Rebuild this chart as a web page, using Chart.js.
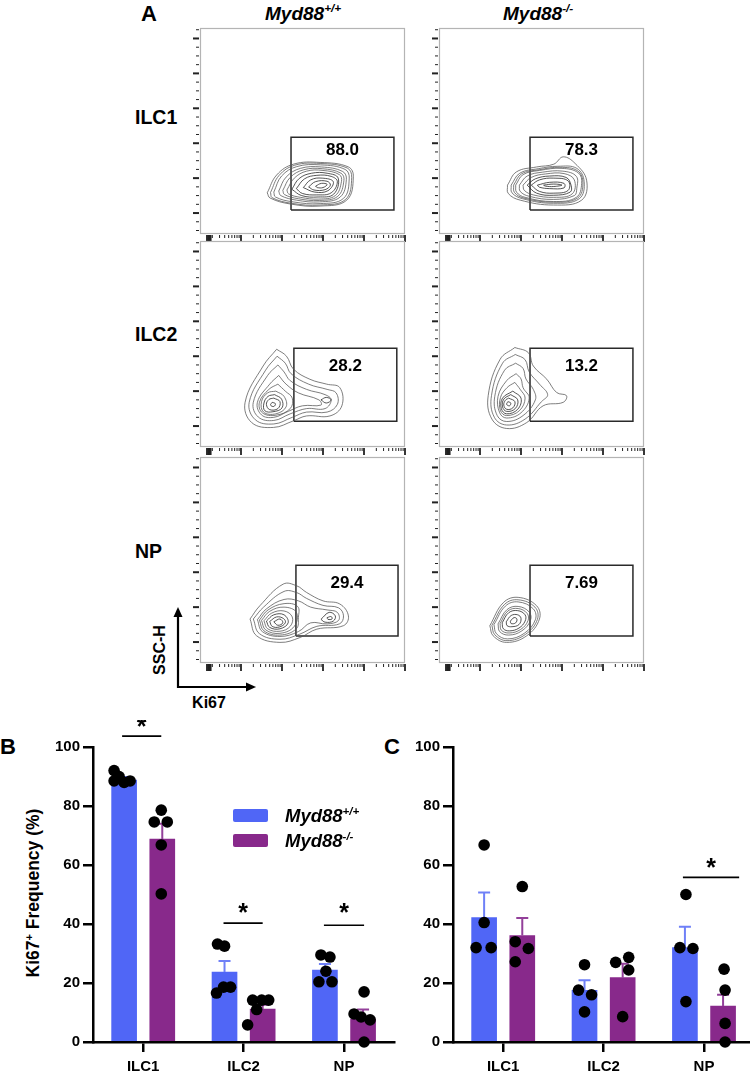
<!DOCTYPE html>
<html>
<head>
<meta charset="utf-8">
<script src="https://cdn.jsdelivr.net/npm/chart.js@4.4.1/dist/chart.umd.min.js"></script>
<style>
  html, body { margin: 0; padding: 0; background: #fff; }
  body { width: 750px; height: 1074px; position: relative; overflow: hidden;
         font-family: 'Liberation Sans', Arial, sans-serif; color: #000; }
  canvas { position: absolute; }
  .t { position: absolute; font-weight: bold; white-space: nowrap; line-height: 1; }
  .c { transform: translate(-50%, -50%); }
  .l { transform: translate(0, -50%); }
  .it { font-style: italic; }
  sup { font-size: 0.62em; vertical-align: 0.6em; line-height: 0; }
  .key { position: absolute; width: 35px; height: 13px; border-radius: 2px; }
</style>
</head>
<body>

<!-- panel A labels -->
<div class="t c" style="left:149px; top:14px; font-size:22px;">A</div>
<div class="t l it" style="left:265px; top:13px; font-size:19px;">Myd88<sup>+/+</sup></div>
<div class="t l it" style="left:503px; top:13px; font-size:19px;">Myd88<sup>-/-</sup></div>
<div class="t l" style="left:135px; top:118px; font-size:19.5px;">ILC1</div>
<div class="t l" style="left:135px; top:335px; font-size:19.5px;">ILC2</div>
<div class="t l" style="left:135px; top:552px; font-size:19.5px;">NP</div>
<div class="t c" style="left:160px; top:650px; font-size:16px; transform:translate(-50%,-50%) rotate(-90deg);">SSC-H</div>
<div class="t c" style="left:209px; top:703px; font-size:16px;">Ki67</div>
<svg style="position:absolute; left:0; top:0;" width="300" height="720">
  <line x1="178" y1="688" x2="178" y2="616" stroke="#000" stroke-width="2.2"/>
  <polygon points="178,607 173.5,617 182.5,617" fill="#000"/>
  <line x1="177" y1="687" x2="247" y2="687" stroke="#000" stroke-width="2.2"/>
  <polygon points="256,687 246,682.5 246,691.5" fill="#000"/>
</svg>

<!-- panel B / C labels -->
<div class="t l" style="left:0px; top:747px; font-size:22px;">B</div>
<div class="t l" style="left:384px; top:747px; font-size:22px;">C</div>
<div class="t c" style="left:34px; top:893px; font-size:17.5px; transform:translate(-50%,-50%) rotate(-90deg);">Ki67<sup>+</sup> Frequency (%)</div>

<canvas id="chartB" width="400" height="354" style="left:0; top:720px;"></canvas>
<canvas id="chartC" width="380" height="354" style="left:380px; top:720px;"></canvas>

<div class="key" style="left:233px; top:809px; background:#5066f6;"></div>
<div class="key" style="left:233px; top:834px; background:#88298b;"></div>
<div class="t l it" style="left:285px; top:816px; font-size:18.5px;">Myd88<sup>+/+</sup></div>
<div class="t l it" style="left:285px; top:841px; font-size:18.5px;">Myd88<sup>-/-</sup></div>

<script>
(function() {
    'use strict';

    // =========================================
    // FLOW DATA — contour rings [Ki67 decade, SSC-H]
    // =========================================
    var ringsIlc1Wt = [
        [[1.64,0.58],[1.87,1.09],[2.28,1.40],[2.93,1.45],[3.62,1.32],[3.74,1.04],[3.58,0.37],[2.93,0.20],[2.20,0.26],[1.71,0.43]],
        [[1.72,0.59],[1.93,1.08],[2.31,1.37],[2.93,1.42],[3.59,1.29],[3.70,1.02],[3.55,0.39],[2.93,0.23],[2.23,0.28],[1.76,0.44]],
        [[1.80,0.60],[1.99,1.06],[2.36,1.33],[2.94,1.38],[3.54,1.25],[3.64,1.00],[3.50,0.42],[2.93,0.27],[2.27,0.32],[1.84,0.46]],
        [[1.92,0.63],[2.10,1.03],[2.45,1.28],[2.96,1.32],[3.48,1.19],[3.57,0.96],[3.42,0.46],[2.92,0.32],[2.35,0.37],[1.97,0.50]],
        [[2.02,0.65],[2.20,1.02],[2.53,1.24],[2.98,1.27],[3.44,1.14],[3.51,0.93],[3.36,0.48],[2.91,0.36],[2.40,0.41],[2.06,0.53]],
        [[2.12,0.66],[2.30,1.00],[2.60,1.20],[3.00,1.22],[3.40,1.10],[3.45,0.90],[3.30,0.50],[2.90,0.40],[2.45,0.45],[2.16,0.55]],
        [[2.24,0.68],[2.42,0.99],[2.72,1.14],[3.10,1.14],[3.37,1.00],[3.26,0.54],[2.88,0.46],[2.48,0.50]],
        [[2.35,0.70],[2.55,0.98],[2.85,1.08],[3.20,1.05],[3.35,0.90],[3.20,0.58],[2.85,0.52],[2.50,0.56]],
        [[2.52,0.73],[2.70,0.95],[2.98,1.00],[3.25,0.90],[3.12,0.64],[2.80,0.60]],
        [[2.65,0.75],[2.82,0.90],[3.10,0.91],[3.18,0.80],[3.05,0.67],[2.78,0.66]],
        [[2.82,0.77],[2.96,0.85],[3.10,0.82],[3.00,0.73],[2.86,0.73]]
    ];
    var ringsIlc1Ko = [
        [[1.67,0.80],[1.89,1.18],[2.38,1.32],[2.80,1.40],[3.03,1.61],[3.32,1.42],[3.60,0.94],[3.48,0.37],[2.79,0.23],[1.98,0.37],[1.69,0.56]],
        [[1.76,0.80],[1.97,1.14],[2.42,1.27],[2.90,1.34],[3.36,1.28],[3.54,0.90],[3.42,0.41],[2.79,0.28],[2.04,0.41],[1.78,0.58]],
        [[1.82,0.80],[2.01,1.12],[2.44,1.24],[2.95,1.31],[3.38,1.21],[3.51,0.87],[3.38,0.43],[2.79,0.31],[2.07,0.43],[1.84,0.59]],
        [[1.87,0.80],[2.05,1.10],[2.45,1.22],[3.00,1.28],[3.40,1.15],[3.48,0.85],[3.35,0.45],[2.79,0.33],[2.10,0.45],[1.89,0.60]],
        [[1.96,0.80],[2.15,1.06],[2.52,1.17],[3.02,1.20],[3.35,1.05],[3.36,0.70],[3.30,0.50],[2.79,0.39],[2.20,0.48],[1.98,0.62]],
        [[2.05,0.80],[2.25,1.02],[2.60,1.12],[3.05,1.13],[3.30,0.95],[3.25,0.55],[2.80,0.45],[2.30,0.52],[2.08,0.65]],
        [[2.15,0.80],[2.35,0.98],[2.70,1.06],[3.10,1.02],[3.22,0.80],[3.20,0.60],[2.80,0.51],[2.38,0.57]],
        [[2.25,0.80],[2.45,0.95],[2.80,1.00],[3.15,0.92],[3.15,0.65],[2.80,0.57],[2.45,0.62]],
        [[2.40,0.80],[2.70,0.88],[3.05,0.85],[3.05,0.72],[2.70,0.70],[2.45,0.74]],
        [[2.55,0.80],[2.80,0.83],[3.00,0.80],[2.80,0.76],[2.60,0.77]]
    ];
    var ringsIlc2Wt = [
        [[1.87,2.20],[2.11,2.00],[2.28,1.63],[2.68,1.34],[3.09,1.20],[3.41,1.10],[3.46,0.58],[3.17,0.29],[2.60,0.29],[2.28,0.15],[1.79,-0.04],[1.26,0.10],[1.10,0.68],[1.54,1.72]],
        [[1.88,2.00],[2.08,1.80],[2.22,1.50],[2.65,1.20],[3.10,1.05],[3.32,0.95],[3.35,0.62],[3.10,0.40],[2.60,0.40],[2.25,0.25],[1.80,0.06],[1.35,0.18],[1.20,0.68],[1.60,1.60]],
        [[1.90,1.75],[2.05,1.55],[2.20,1.30],[2.60,1.05],[3.05,0.90],[3.20,0.75],[3.05,0.50],[2.60,0.50],[2.20,0.35],[1.80,0.16],[1.42,0.26],[1.30,0.68],[1.65,1.45]],
        [[1.92,1.45],[2.10,1.20],[2.40,0.95],[2.90,0.75],[2.95,0.60],[2.50,0.58],[2.15,0.42],[1.80,0.25],[1.50,0.32],[1.40,0.68],[1.70,1.20]],
        [[1.90,1.20],[2.08,1.00],[2.25,0.80],[2.20,0.50],[1.85,0.31],[1.52,0.38],[1.45,0.68],[1.68,1.05]],
        [[1.85,1.00],[2.05,0.85],[2.10,0.55],[1.85,0.35],[1.55,0.40],[1.50,0.70],[1.65,0.95]],
        [[1.82,0.90],[1.99,0.77],[2.00,0.52],[1.78,0.41],[1.58,0.44],[1.56,0.66],[1.66,0.85]],
        [[1.80,0.80],[1.95,0.70],[1.90,0.50],[1.70,0.47],[1.62,0.62],[1.68,0.76]],
        [[2.95,0.75],[3.08,0.82],[3.20,0.75],[3.08,0.66]],
        [[1.76,0.68],[1.84,0.64],[1.80,0.56],[1.72,0.60]]
    ];
    var ringsIlc2Ko = [
        [[1.85,2.25],[2.18,2.10],[2.30,1.72],[2.63,1.34],[2.87,0.96],[3.11,0.87],[3.03,0.68],[2.54,0.58],[2.14,0.10],[1.65,-0.07],[1.29,0.20],[1.20,0.87],[1.49,1.91]],
        [[1.86,2.05],[2.10,1.90],[2.20,1.55],[2.45,1.20],[2.65,0.90],[2.50,0.70],[2.10,0.20],[1.65,0.03],[1.35,0.25],[1.28,0.87],[1.55,1.80]],
        [[1.87,1.80],[2.05,1.65],[2.12,1.35],[2.30,1.05],[2.35,0.75],[2.05,0.30],[1.65,0.13],[1.42,0.30],[1.36,0.85],[1.60,1.60]],
        [[1.88,1.50],[2.00,1.35],[2.05,1.10],[2.20,0.80],[2.00,0.38],[1.65,0.23],[1.48,0.38],[1.44,0.85],[1.65,1.30]],
        [[1.85,1.25],[1.98,1.05],[2.10,0.80],[1.96,0.44],[1.65,0.30],[1.50,0.44],[1.50,0.82],[1.66,1.10]],
        [[1.80,1.00],[2.00,0.80],[1.92,0.48],[1.65,0.35],[1.52,0.50],[1.55,0.80]],
        [[1.75,0.90],[1.92,0.75],[1.86,0.50],[1.65,0.42],[1.55,0.55],[1.58,0.77]],
        [[1.70,0.80],[1.85,0.70],[1.80,0.52],[1.65,0.48],[1.58,0.60],[1.62,0.74]],
        [[1.68,0.70],[1.75,0.66],[1.72,0.58],[1.65,0.62]]
    ];
    var ringsNpWt = [
        [[1.22,0.66],[1.46,1.04],[2.03,1.66],[2.36,1.61],[2.60,1.42],[3.00,1.18],[3.41,1.09],[3.62,0.75],[3.50,0.47],[2.85,0.37],[2.44,0.13],[1.95,-0.01],[1.38,0.18]],
        [[1.30,0.66],[1.55,1.00],[2.05,1.45],[2.35,1.42],[2.60,1.25],[3.00,1.05],[3.38,0.98],[3.50,0.75],[3.40,0.52],[2.85,0.45],[2.42,0.22],[1.95,0.08],[1.45,0.24]],
        [[1.40,0.64],[1.62,0.95],[2.05,1.22],[2.40,1.18],[2.70,1.00],[3.10,0.92],[3.35,0.85],[3.38,0.62],[3.10,0.52],[2.70,0.55],[2.40,0.30],[1.95,0.16],[1.52,0.30]],
        [[1.45,0.63],[1.66,0.92],[2.05,1.10],[2.38,1.02],[2.40,0.70],[2.35,0.38],[1.95,0.20],[1.56,0.32]],
        [[1.50,0.62],[1.70,0.88],[2.05,1.00],[2.35,0.85],[2.30,0.45],[1.95,0.25],[1.60,0.35]],
        [[1.56,0.61],[1.75,0.83],[2.05,0.89],[2.25,0.72],[2.20,0.45],[1.95,0.31],[1.65,0.38]],
        [[2.95,0.65],[3.15,0.85],[3.30,0.75],[3.25,0.60],[3.05,0.57]],
        [[1.62,0.60],[1.80,0.78],[2.05,0.78],[2.15,0.55],[1.95,0.38],[1.70,0.42]],
        [[1.70,0.59],[1.87,0.72],[2.04,0.67],[2.08,0.55],[1.93,0.43],[1.76,0.45]],
        [[1.80,0.58],[1.95,0.66],[2.02,0.55],[1.90,0.48]],
        [[3.10,0.70],[3.20,0.73],[3.22,0.66],[3.12,0.65]]
    ];
    var ringsNpKo = [
        [[1.24,0.47],[1.57,1.13],[1.93,1.28],[2.38,1.04],[2.45,0.66],[2.14,0.18],[1.65,-0.01],[1.32,0.18]],
        [[1.29,0.48],[1.60,1.08],[1.93,1.21],[2.34,1.00],[2.40,0.65],[2.11,0.22],[1.66,0.04],[1.36,0.21]],
        [[1.34,0.50],[1.62,1.03],[1.93,1.15],[2.30,0.95],[2.35,0.64],[2.08,0.25],[1.67,0.09],[1.40,0.24]],
        [[1.44,0.52],[1.66,0.93],[1.93,1.02],[2.20,0.86],[2.23,0.62],[2.02,0.32],[1.70,0.20],[1.48,0.30]],
        [[1.49,0.53],[1.68,0.89],[1.93,0.96],[2.15,0.82],[2.17,0.61],[1.99,0.36],[1.71,0.26],[1.52,0.34]],
        [[1.54,0.55],[1.70,0.84],[1.92,0.90],[2.10,0.78],[2.10,0.60],[1.95,0.40],[1.72,0.32],[1.57,0.38]],
        [[1.64,0.58],[1.76,0.76],[1.92,0.78],[2.00,0.68],[1.95,0.50],[1.78,0.44],[1.66,0.47]],
        [[1.74,0.60],[1.83,0.70],[1.90,0.66],[1.87,0.55],[1.76,0.53]]
    ];

    // gates: [x0, x1, y0, y1] and the percentage printed inside
    var gateIlc1Wt = [2.22, 4.73, 0.09, 2.17], labelIlc1Wt = '88.0';
    var gateIlc1Ko = [2.22, 4.73, 0.09, 2.17], labelIlc1Ko = '78.3';
    var gateIlc2Wt = [2.29, 4.80, 0.14, 2.23], labelIlc2Wt = '28.2';
    var gateIlc2Ko = [2.22, 4.73, 0.14, 2.23], labelIlc2Ko = '13.2';
    var gateNpWt = [2.34, 4.83, 0.17, 2.20], labelNpWt = '29.4';
    var gateNpKo = [2.22, 4.73, 0.17, 2.20], labelNpKo = '7.69';
    var gateLabelY = [1.80, 1.71, 1.69];

    // =========================================
    // BAR DATA — Ki67+ frequency (%)
    // =========================================
    var categories = ['ILC1', 'ILC2', 'NP'];

    var barsWtB = [88.8, 23.7, 24.4];
    var barsKoB = [68.8, 11.2, 7.8];
    var errWtB = [89.8, 27.5, 26.4];
    var errKoB = [74.0, 12.6, 11.0];
    var dotsWtB = [[-0.29,92.0],[-0.24,90.0],[-0.29,88.5],[-0.19,88.0],[-0.13,88.5],
                   [0.74,33.2],[0.81,32.5],[0.73,16.6],[0.80,18.6],[0.87,18.6],
                   [1.77,29.5],[1.86,28.8],[1.82,24.0],[1.75,20.4],[1.88,20.4]];
    var dotsKoB = [[0.18,78.6],[0.11,74.6],[0.24,74.6],[0.18,66.8],[0.18,50.2],
                   [1.09,14.2],[1.18,14.2],[1.25,14.2],[1.13,11.0],[1.04,5.8],
                   [2.20,17.0],[2.10,9.5],[2.17,8.5],[2.26,7.5],[2.20,0.0]];
    // significance: [x0, x1, line y, star y]
    var sigB = [[-0.21, 0.18, 103.7, 108.8], [0.80, 1.19, 40.3, 45.8], [1.80, 2.20, 39.6, 45.8]];

    var barsWtC = [42.2, 17.5, 32.0];
    var barsKoC = [36.1, 21.8, 12.2];
    var errWtC = [50.7, 20.9, 39.1];
    var errKoC = [42.0, 26.5, 16.0];
    var dotsWtC = [[-0.19,66.8],[-0.19,40.5],[-0.27,32.0],[-0.12,32.0],
                   [0.81,26.2],[0.75,17.6],[0.88,16.0],[0.81,10.2],
                   [1.82,50.0],[1.76,32.0],[1.89,31.7],[1.82,13.7]];
    var dotsKoC = [[0.19,52.7],[0.12,34.0],[0.25,31.7],[0.12,27.2],
                   [1.12,27.0],[1.25,28.7],[1.25,24.4],[1.19,8.6],
                   [2.20,24.7],[2.21,17.6],[2.21,6.3],[2.21,0.0]];
    var sigC = [[1.79, 2.35, 55.8, 60.9]];

    var BLUE = '#5066f6', BLUE_ERR = '#6f80f7';
    var PURPLE = '#88298b', PURPLE_ERR = '#93409a';
    var FONT = "'Liberation Sans', Arial, sans-serif";
    var GROUP_SHIFT = 0.19;   // half the distance between the two bars of a group

    // =========================================
    // HELPERS
    // =========================================
    function toPoints(arr) {
        return arr.map(function(p) { return { x: p[0], y: p[1] }; });
    }

    function closeRing(ring) {
        return toPoints(ring.concat([ring[0]]));
    }

    function gateBox(g) {
        return toPoints([[g[0], g[2]], [g[1], g[2]], [g[1], g[3]], [g[0], g[3]], [g[0], g[2]]]);
    }

    function groupedBars(values, shift) {
        return values.map(function(v, i) { return { x: i + shift, y: v }; });
    }

    function flowXTicks() {
        var ticks = [];
        for (var d = 0; d < 5; d++) {
            for (var k = 2; k < 10; k++) ticks.push({ v: d + Math.log10(k), major: false });
            ticks.push({ v: d + 1, major: true });
        }
        [0.17, 0.2, 0.23, 0.26].forEach(function(v) { ticks.push({ v: v, major: true }); });
        return ticks;
    }

    function flowYTicks() {
        var ticks = [];
        for (var v = -0.5; v <= 5.26; v += 0.25) {
            var r = Math.round(v * 100) / 100;
            ticks.push({ v: r, major: r === Math.round(r) });
        }
        return ticks;
    }

    // =========================================
    // FLOW PLOT — FRAME, TICKS, GATE LABEL
    // =========================================
    var flowFramePlugin = {
        id: 'flowFrame',
        beforeDatasetsDraw: function(chart) {
            var a = chart.chartArea, ctx = chart.ctx;
            var sx = chart.scales.x, sy = chart.scales.y;
            ctx.save();
            ctx.strokeStyle = '#b4b4b4';
            ctx.lineWidth = 1.2;
            ctx.strokeRect(a.left + 0.5, a.top + 0.5, a.right - a.left - 1, a.bottom - a.top - 1);

            ctx.strokeStyle = '#222';
            flowYTicks().forEach(function(t) {
                var y = sy.getPixelForValue(t.v);
                if (y < a.top || y > a.bottom) return;
                ctx.lineWidth = t.major ? 2 : 1;
                ctx.beginPath();
                ctx.moveTo(a.left - (t.major ? 7 : 4), y);
                ctx.lineTo(a.left - 1, y);
                ctx.stroke();
            });
            flowXTicks().forEach(function(t) {
                var x = sx.getPixelForValue(t.v);
                ctx.lineWidth = t.major ? 1.8 : 1;
                ctx.beginPath();
                ctx.moveTo(x, a.bottom + 1);
                ctx.lineTo(x, a.bottom + (t.major ? 8 : 4));
                ctx.stroke();
            });
            ctx.restore();
        },
        afterDatasetsDraw: function(chart, args, opts) {
            var g = opts.gate, ctx = chart.ctx;
            var x = chart.scales.x.getPixelForValue((g[0] + g[1]) / 2);
            var y = chart.scales.y.getPixelForValue(opts.labelY);
            ctx.save();
            ctx.fillStyle = '#000';
            ctx.font = 'bold 17px ' + FONT;
            ctx.textAlign = 'center';
            ctx.textBaseline = 'middle';
            ctx.fillText(opts.label, x, y);
            ctx.restore();
        }
    };

    function buildFlowPlot(p) {
        var cv = document.createElement('canvas');
        cv.width = 227;
        cv.height = 222;
        cv.style.left = (p.left - 16) + 'px';
        cv.style.top = (p.top - 6) + 'px';
        document.body.appendChild(cv);

        var n = p.rings.length;
        var datasets = p.rings.map(function(r, i) {
            return {
                data: closeRing(r),
                showLine: true,
                pointRadius: 0,
                borderColor: i > n / 2 ? 'rgba(45,45,45,0.9)' : 'rgba(85,85,85,0.85)',
                borderWidth: 0.9,
                tension: 0.4,
                fill: false
            };
        });
        datasets.push({
            data: gateBox(p.gate),
            showLine: true,
            pointRadius: 0,
            borderColor: '#2a2a2a',
            borderWidth: 1.5,
            tension: 0
        });

        new Chart(cv, {
            type: 'scatter',
            data: { datasets: datasets },
            options: {
                responsive: false,
                animation: false,
                events: [],
                layout: { padding: { left: 16, top: 6, right: 6, bottom: 10 } },
                plugins: {
                    legend: { display: false },
                    tooltip: { enabled: false },
                    flowFrame: { gate: p.gate, label: p.label, labelY: p.labelY }
                },
                scales: {
                    x: { type: 'linear', min: 0, max: 5, display: false },
                    y: { type: 'linear', min: -0.6, max: 5.3, display: false }
                }
            },
            plugins: [flowFramePlugin]
        });
    }

    // =========================================
    // BAR CHART — ERROR BARS + SIGNIFICANCE
    // =========================================
    var errorBarPlugin = {
        id: 'errorBars',
        afterDatasetDraw: function(chart, args) {
            var ds = chart.data.datasets[args.index];
            if (!ds.errTop) return;
            var ctx = chart.ctx, sy = chart.scales.y;
            ctx.save();
            ctx.strokeStyle = ds.errColor;
            ctx.lineWidth = 2;
            args.meta.data.forEach(function(bar, i) {
                var top = sy.getPixelForValue(ds.errTop[i]);
                ctx.beginPath();
                ctx.moveTo(bar.x, bar.y);
                ctx.lineTo(bar.x, top);
                ctx.moveTo(bar.x - 6, top);
                ctx.lineTo(bar.x + 6, top);
                ctx.stroke();
            });
            ctx.restore();
        }
    };

    var starPlugin = {
        id: 'sigStars',
        afterDraw: function(chart, args, opts) {
            var ctx = chart.ctx, sx = chart.scales.xd, sy = chart.scales.y;
            ctx.save();
            ctx.fillStyle = '#000';
            ctx.font = 'bold 25px ' + FONT;
            ctx.textAlign = 'center';
            ctx.textBaseline = 'alphabetic';
            opts.sigs.forEach(function(s) {
                var x = sx.getPixelForValue((s[0] + s[1]) / 2);
                var y = sy.getPixelForValue(s[3]);
                ctx.fillText('*', x, y + 14);
            });
            ctx.restore();
        }
    };

    function buildBarChart(id, cfg) {
        var ctx = document.getElementById(id);
        var datasets = [
            { type: 'bar', data: groupedBars(cfg.wt, -GROUP_SHIFT), xAxisID: 'xd', grouped: false,
              barThickness: 25, backgroundColor: BLUE, errTop: cfg.errWt, errColor: BLUE_ERR, order: 3 },
            { type: 'bar', data: groupedBars(cfg.ko, GROUP_SHIFT), xAxisID: 'xd', grouped: false,
              barThickness: 25, backgroundColor: PURPLE, errTop: cfg.errKo, errColor: PURPLE_ERR, order: 3 },
            { type: 'scatter', data: toPoints(cfg.dotsWt.concat(cfg.dotsKo)), xAxisID: 'xd',
              pointRadius: 5.8, backgroundColor: '#000', borderWidth: 0, clip: false, order: 1 }
        ];
        cfg.sigs.forEach(function(s) {
            datasets.push({
                type: 'line', data: toPoints([[s[0], s[2]], [s[1], s[2]]]), xAxisID: 'xd',
                borderColor: '#000', borderWidth: 1.6, pointRadius: 0, clip: false, order: 0
            });
        });

        return new Chart(ctx, {
            type: 'bar',
            data: { labels: categories, datasets: datasets },
            options: {
                responsive: false,
                animation: false,
                events: [],
                layout: { padding: { left: 0, top: 27, right: 5, bottom: 0 } },
                plugins: {
                    legend: { display: false },
                    tooltip: { enabled: false },
                    sigStars: { sigs: cfg.sigs }
                },
                scales: {
                    x: {
                        type: 'category',
                        offset: true,
                        grid: { display: true, drawOnChartArea: false, offset: false,
                                tickLength: 10, lineWidth: 2.5, color: '#000' },
                        border: { display: true, width: 2.5, color: '#000' },
                        ticks: { color: '#000', padding: 6, font: { family: FONT, size: 15, weight: 'bold' } },
                        afterFit: function(s) { s.height = 32; }
                    },
                    xd: { type: 'linear', min: -0.5, max: 2.5, offset: false, display: false },
                    y: {
                        min: 0, max: 100,
                        grid: { display: true, drawOnChartArea: false, tickLength: 10, lineWidth: 2.5, color: '#000' },
                        border: { display: true, width: 2.5, color: '#000' },
                        ticks: { stepSize: 20, color: '#000', padding: 3, font: { family: FONT, size: 15, weight: 'bold' } },
                        afterFit: function(s) { s.width = cfg.yWidth; }
                    }
                }
            },
            plugins: [errorBarPlugin, starPlugin]
        });
    }

    // =========================================
    // BUILD
    // =========================================
    var flowPlots = [
        { left: 200, top: 28,  rings: ringsIlc1Wt, gate: gateIlc1Wt, label: labelIlc1Wt, labelY: gateLabelY[0] },
        { left: 439, top: 28,  rings: ringsIlc1Ko, gate: gateIlc1Ko, label: labelIlc1Ko, labelY: gateLabelY[0] },
        { left: 200, top: 241, rings: ringsIlc2Wt, gate: gateIlc2Wt, label: labelIlc2Wt, labelY: gateLabelY[1] },
        { left: 439, top: 241, rings: ringsIlc2Ko, gate: gateIlc2Ko, label: labelIlc2Ko, labelY: gateLabelY[1] },
        { left: 200, top: 457, rings: ringsNpWt,   gate: gateNpWt,   label: labelNpWt,   labelY: gateLabelY[2] },
        { left: 439, top: 457, rings: ringsNpKo,   gate: gateNpKo,   label: labelNpKo,   labelY: gateLabelY[2] }
    ];
    flowPlots.forEach(buildFlowPlot);

    buildBarChart('chartB', { wt: barsWtB, ko: barsKoB, errWt: errWtB, errKo: errKoB,
                              dotsWt: dotsWtB, dotsKo: dotsKoB, sigs: sigB, yWidth: 93 });
    buildBarChart('chartC', { wt: barsWtC, ko: barsKoC, errWt: errWtC, errKo: errKoC,
                              dotsWt: dotsWtC, dotsKo: dotsKoC, sigs: sigC, yWidth: 73 });
})();
</script>
</body>
</html>
